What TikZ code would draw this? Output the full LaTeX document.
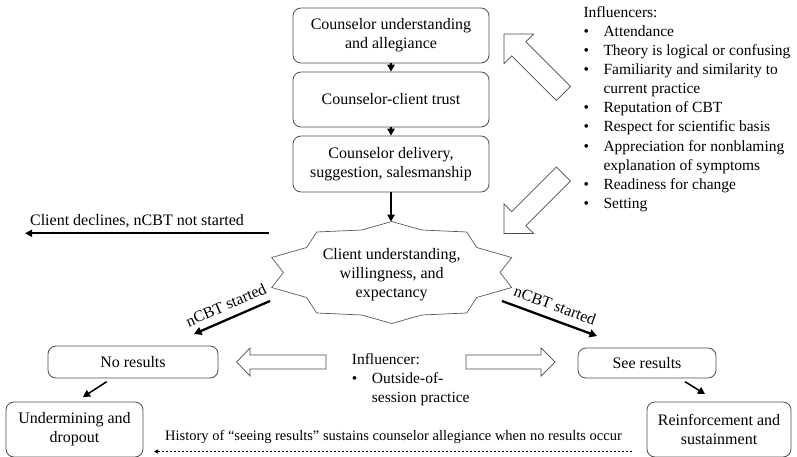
\documentclass[tikz,border=0pt]{standalone}
\usepackage{fontspec}
\setmainfont{Liberation Serif}
\usetikzlibrary{arrows.meta}
\begin{document}
\begin{tikzpicture}[x=1pt,y=-1pt,
  box/.style={draw=black!70, line width=0.8pt, rounded corners=8pt, align=center, inner sep=0pt, font=\fontsize{16}{19}\selectfont},
  flow/.style={line width=1.5pt, -{Triangle[length=7pt,width=7.5pt]}},
  heavy/.style={line width=2.3pt, -{Triangle[length=7.5pt,width=8pt]}},
  hollow/.style={draw=black!70, line width=0.7pt, fill=white, line join=miter},
  lbl/.style={font=\fontsize{16}{19}\selectfont, inner sep=0pt},
  listfont/.style={font=\fontsize{15.5}{19.1}\selectfont, inner sep=0pt}]
\useasboundingbox (0,0) rectangle (797,457);

% top chain
\node[box, minimum width=196pt, minimum height=55pt] (b1) at (391,35.5) {Counselor understanding\\and allegiance};
\node[box, minimum width=196pt, minimum height=55pt] (b2) at (391,99.5) {Counselor-client trust};
\node[box, minimum width=196pt, minimum height=56pt] (b3) at (391,164) {Counselor delivery,\\suggestion, salesmanship};
\draw[flow] (b1) -- (b2);
\draw[flow] (b2) -- (b3);

% star
\draw[draw=black!65, line width=0.7pt, line join=miter]
 (391.7,221.5) -- (361.7,230) -- (316.7,232) -- (306.7,247.5) -- (271.7,257.5)
 -- (283.3,272.5) -- (271.7,287.5) -- (306.7,297.5) -- (316.7,313) -- (361.7,315)
 -- (391.7,323.5) -- (421.7,315) -- (466.7,313) -- (476.7,297.5) -- (511.7,287.5)
 -- (500.1,272.5) -- (511.7,257.5) -- (476.7,247.5) -- (466.7,232) -- (421.7,230) -- cycle;
\node[lbl, align=center] (star) at (391.7,275) {Client understanding,\\willingness, and\\expectancy};
\coordinate (startop) at (391.7,221.5);
\draw[flow] (b3.south) -- (b3.south |- startop);

% client declines
\coordinate (cdA) at (269,233.3);
\coordinate (cdB) at (25,233.3);
\draw[line width=2pt, -{Triangle[length=7pt,width=7pt]}] (cdA) -- (cdB);
\node[lbl] (cdl) at (137,221) {Client declines, nCBT not started};

% result boxes
\node[box, minimum width=170pt, minimum height=32pt] (nores) at (133,362) {No results};
\node[box, minimum width=138pt, minimum height=30pt] (seeres) at (647,363) {See results};
\node[box, minimum width=137pt, minimum height=55pt] (under) at (74.5,429.5) {Undermining and\\dropout};
\node[box, minimum width=144pt, minimum height=55pt] (reinf) at (719,429.5) {Reinforcement and\\sustainment};

% nCBT started arrows
\coordinate (lA) at (270,301);
\coordinate (lB) at (194,334);
\coordinate (rA) at (502,301);
\coordinate (rB) at (597,336);
\draw[heavy] (lA) -- (lB);
\draw[heavy] (rA) -- (rB);
\node[lbl, rotate=23.5] (lL) at (226,305) {nCBT started};
\node[lbl, rotate=-20.2] (rL) at (555,305.5) {nCBT started};

% small arrows to final boxes
\coordinate (n1) at (106.7,381.7);
\coordinate (n2) at (83,397);
\coordinate (s1) at (685,381.7);
\coordinate (s2) at (705,394);
\draw[flow] (n1) -- (n2);
\draw[flow] (s1) -- (s2);

% hollow horizontal arrows
\draw[hollow] (236.7,362) -- (250,348) -- (250,355) -- (326,355) -- (326,369) -- (250,369) -- (250,376) -- cycle;
\draw[hollow] (555,362) -- (541,348) -- (541,355) -- (466,355) -- (466,369) -- (541,369) -- (541,376) -- cycle;

% middle influencer
\node[listfont, anchor=north west] (minf) at (351.7,350.5) {%
\begin{tabular}{@{}p{20pt}@{}l@{}}
\multicolumn{2}{@{}l@{}}{Influencer:}\\
\textbullet & Outside-of-\\
 & session practice
\end{tabular}};

% hollow diagonal arrows
\draw[hollow] (504,34) -- (533.6,33.9) -- (525.9,41.7) -- (570.5,86.3) -- (556.3,100.5) -- (511.7,55.9) -- (503.9,63.6) -- cycle;
\draw[hollow] (504,233.5) -- (533.6,233.5) -- (525.9,225.8) -- (570.5,181.2) -- (556.3,167.0) -- (511.7,211.6) -- (503.9,203.8) -- cycle;

% top-right influencers
\node[listfont, anchor=north west] (tinf) at (583.3,3.8) {%
\begin{tabular}{@{}p{20pt}@{}l@{}}
\multicolumn{2}{@{}l@{}}{Influencers:}\\
\textbullet & Attendance\\
\textbullet & Theory is logical or confusing\\
\textbullet & Familiarity and similarity to\\
 & current practice\\
\textbullet & Reputation of CBT\\
\textbullet & Respect for scientific basis\\
\textbullet & Appreciation for nonblaming\\
 & explanation of symptoms\\
\textbullet & Readiness for change\\
\textbullet & Setting
\end{tabular}};

% dashed history
\coordinate (hA) at (632,451.5);
\coordinate (hB) at (154,451.5);
\draw[line width=0.7pt, dash pattern=on 2.5pt off 1.5pt, -{Triangle[length=4pt,width=4pt]}] (hA) -- (hB);
\node[font=\fontsize{14.5}{17}\selectfont, inner sep=0pt] (hl) at (393.5,436.5) {History of “seeing results” sustains counselor allegiance when no results occur};
\end{tikzpicture}
\end{document}
